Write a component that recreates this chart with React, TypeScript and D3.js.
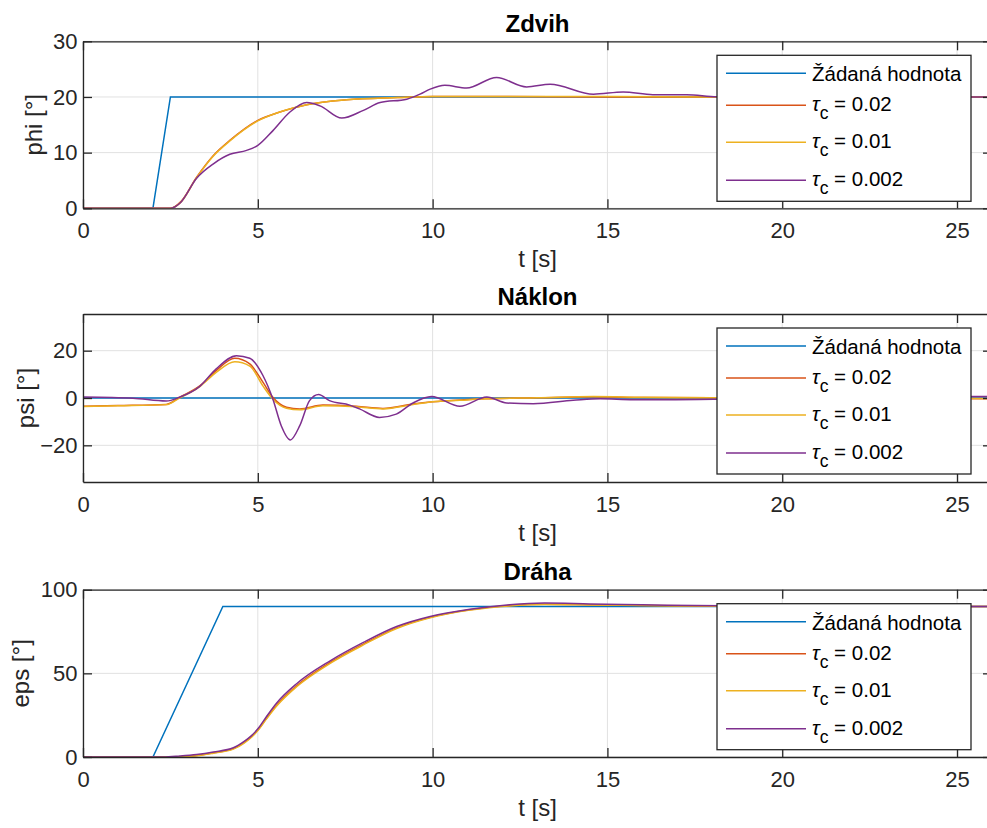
import React, { useEffect, useRef } from 'react';
import * as d3 from 'd3';

// legend + colours (MATLAB default order)
const legendNames = ['Žádaná hodnota', '0.02', '0.01', '0.002'];
const colors = ['#0072BD', '#D95319', '#EDB120', '#7E2F8E'];
const xTicks = [0, 5, 10, 15, 20, 25];
const titles = ['Zdvih', 'Náklon', 'Dráha'];
const yLabels = ['phi [°]', 'psi [°]', 'eps [°]'];
const yTicks = [[0, 10, 20, 30], [-20, 0, 20], [0, 50, 100]];
const yDomains = [[0, 30], [-35.5, 35.5], [0, 100]];

// Zdvih (phi)
const phiRefT = [0, 2, 2.5, 26];
const phiRef = [0, 0, 20, 20];
const phiT = [0, 2.5, 2.8, 3.25, 3.73, 4.2, 5.0, 5.63, 6.4, 7.54, 9.0, 10, 12, 15, 18, 22, 26];
const phi002 = [0, 0, 1.2, 5.6, 9.5, 12.2, 15.8, 17.3, 18.6, 19.5, 19.9, 20.1, 20.1, 20, 20, 20, 20];
const phi001 = [0, 0, 1.1, 5.5, 9.4, 12.1, 15.7, 17.3, 18.6, 19.5, 19.9, 20.1, 20.1, 20.1, 20, 20, 20];
const phi0002T = [0, 2.5, 2.77, 3.25, 3.73, 4.2, 4.68, 5.0, 5.44, 5.92, 6.4, 6.78, 7.4, 8.02, 8.5, 9.26, 9.64, 9.93, 10.35, 10.97, 11.83, 12.69, 13.36, 14.6, 15.45, 16.3, 17.27, 18.13, 20, 23, 26];
const phi0002 = [0, 0, 0.9, 5.4, 8.0, 9.7, 10.4, 11.3, 14, 17.3, 19.0, 18.4, 16.2, 17.6, 19.0, 19.6, 20.5, 21.4, 22.1, 21.6, 23.5, 21.8, 22.3, 20.5, 20.9, 20.4, 20.4, 20.05, 20, 20, 20];

// Náklon (psi)
const psiRefT = [0, 26];
const psiRef = [0, 0];
const psiT = [0, 1, 2.38, 2.76, 3.34, 3.81, 4.34, 4.77, 5.15, 5.43, 5.82, 6.2, 6.86, 7.82, 8.58, 9.44, 10, 10.78, 11.5, 13, 14.6, 16, 18, 21, 26];
const psi002 = [-3.5, -3.2, -2.7, 0.3, 5.1, 11.6, 16.8, 14.4, 6.6, 0.3, -3.9, -4.6, -3, -3.5, -4.4, -2.5, -1.6, -0.8, -0.3, 0.1, 0.5, 0.2, 0.1, 0, -0.3];
const psi001 = [-3.6, -3.3, -2.8, 0, 4.8, 10.8, 15.3, 13.5, 5.0, -0.5, -4.3, -5.0, -3.3, -3.7, -4.6, -2.8, -1.6, -1.0, -0.3, 0.1, 0.6, 0.3, 0.1, 0, -0.2];
const psi0002T = [0, 1.43, 2.38, 2.76, 3.34, 3.81, 4.39, 4.77, 5.15, 5.43, 5.67, 5.93, 6.2, 6.48, 6.74, 7.05, 7.63, 7.91, 8.48, 8.96, 9.44, 9.97, 10.78, 11.55, 12.12, 12.88, 14.02, 14.79, 15.74, 16.7, 18.1, 21, 26];
const psi0002 = [0.4, -0.1, -1.3, 0.3, 4.9, 12.3, 17.9, 16.8, 9.4, -0.4, -11.7, -17.7, -11.7, -1.1, 1.5, -1.1, -3, -4.6, -8.2, -6.8, -2.1, 0.6, -3.5, 0.4, -2.1, -2.4, -1.0, -0.3, -0.7, -0.7, -0.5, 0.5, 0.6];

// Dráha (eps)
const epsRefT = [0, 2, 4, 26];
const epsRef = [0, 0, 90, 90];
const epsT = [0, 2.3, 2.77, 3.25, 3.73, 4.3, 4.6, 4.82, 5.02, 5.25, 5.54, 6.11, 7.07, 8.02, 8.97, 9.93, 11.07, 12.2, 13.2, 14.5, 16, 17.5, 20, 23, 26];
const eps002 = [0, 0, 0.2, 0.9, 2.5, 5.0, 8.6, 12.2, 16.6, 23.2, 31, 42.5, 56.5, 67.5, 77.2, 83.5, 88, 90.5, 91.3, 91, 90.6, 90.3, 90, 90, 90];
const eps001 = [0, 0, 0.1, 0.7, 2.3, 4.7, 8.2, 11.8, 16.3, 22.8, 30.5, 42, 56, 67, 76.8, 83.2, 87.8, 90.3, 91.1, 90.9, 90.5, 90.2, 90, 90, 90];
const eps0002 = [0, 0, 0.6, 1.5, 3.0, 5.5, 9.2, 12.8, 17.3, 24.2, 32.3, 43.8, 57.5, 68.5, 78, 84, 88.3, 91, 92, 91.5, 91, 90.5, 90.2, 90, 90];

const series = [
    [[phiRefT, phiRef], [phiT, phi002], [phiT, phi001], [phi0002T, phi0002]],
    [[psiRefT, psiRef], [psiT, psi002], [psiT, psi001], [psi0002T, psi0002]],
    [[epsRefT, epsRef], [epsT, eps002], [epsT, eps001], [epsT, eps0002]],
];

const App = () => {
    const svgRef = useRef(null);

    useEffect(() => {
        const svg = d3.select(svgRef.current);
        svg.selectAll("*").remove();

        const width = 987;
        const height = 828;
        const left = 83;
        const right = 992;
        const boxes = [[41.3, 208.3], [314, 482], [589.7, 757]];
        const yLabelX = [42, 34, 29];
        const font = "Arial, 'Liberation Sans', Helvetica, sans-serif";
        const ink = '#262626';

        svg.attr("width", width).attr("height", height)
            .attr("viewBox", [0, 0, width, height])
            .style("position", "absolute").style("left", 0).style("top", 0)
            .style("background", "#fff");

        const x = d3.scaleLinear([0, 26], [left, right]);

        series.forEach((ser, i) => {
            const [top, bottom] = boxes[i];
            const y = d3.scaleLinear(yDomains[i], [bottom, top]);
            const g = svg.append("g");

            svg.append("clipPath").attr("id", "clip" + i)
                .append("rect")
                .attr("x", left).attr("y", top)
                .attr("width", right - left).attr("height", bottom - top);

            // grid
            g.append("g").selectAll("line").data(xTicks).join("line")
                .attr("x1", d => x(d)).attr("x2", d => x(d))
                .attr("y1", top).attr("y2", bottom)
                .attr("stroke", "#e1e1e1").attr("stroke-width", 1);
            g.append("g").selectAll("line").data(yTicks[i]).join("line")
                .attr("x1", left).attr("x2", right)
                .attr("y1", d => y(d)).attr("y2", d => y(d))
                .attr("stroke", "#e1e1e1").attr("stroke-width", 1);

            // data lines
            const lines = g.append("g").attr("clip-path", `url(#clip${i})`);
            ser.forEach(([ts, vs], k) => {
                const line = d3.line()
                    .x(d => x(d[0]))
                    .y(d => y(d[1]))
                    .curve(k === 0 ? d3.curveLinear : d3.curveMonotoneX);
                lines.append("path")
                    .attr("fill", "none")
                    .attr("stroke", colors[k])
                    .attr("stroke-width", 1.5)
                    .attr("d", line(d3.zip(ts, vs)));
            });

            // axes
            const styleAxis = (a) => {
                a.attr("font-family", font).attr("font-size", 22);
                a.select(".domain").attr("stroke", ink).attr("stroke-width", 1.3);
                a.selectAll(".tick line").attr("stroke", ink).attr("stroke-width", 1.3);
                a.selectAll(".tick text").attr("fill", ink);
            };
            svg.append("g").attr("transform", `translate(0,${bottom})`)
                .call(d3.axisBottom(x).tickValues(xTicks).tickSize(-9).tickSizeOuter(0).tickPadding(14.5))
                .call(styleAxis);
            svg.append("g").attr("transform", `translate(0,${top})`)
                .call(d3.axisTop(x).tickValues(xTicks).tickSize(-9).tickSizeOuter(0).tickFormat(() => ""))
                .call(styleAxis);
            svg.append("g").attr("transform", `translate(${left},0)`)
                .call(d3.axisLeft(y).tickValues(yTicks[i]).tickSize(-9).tickSizeOuter(0).tickPadding(5.5))
                .call(styleAxis);
            svg.append("g").attr("transform", `translate(${right},0)`)
                .call(d3.axisRight(y).tickValues(yTicks[i]).tickSize(-9).tickSizeOuter(0).tickFormat(() => ""))
                .call(styleAxis);

            // title & labels
            const cx = (left + right) / 2;
            svg.append("text")
                .attr("x", cx).attr("y", top - 9.5)
                .attr("text-anchor", "middle")
                .attr("font-family", font).attr("font-size", 24).attr("font-weight", "bold")
                .attr("fill", "#000")
                .text(titles[i]);
            svg.append("text")
                .attr("x", cx).attr("y", bottom + 59)
                .attr("text-anchor", "middle")
                .attr("font-family", font).attr("font-size", 24)
                .attr("fill", ink)
                .text("t [s]");
            svg.append("text")
                .attr("transform", `translate(${yLabelX[i]},${(top + bottom) / 2}) rotate(-90)`)
                .attr("text-anchor", "middle")
                .attr("font-family", font).attr("font-size", 24)
                .attr("fill", ink)
                .text(yLabels[i]);

            // legend
            const ly = top + 14;
            const leg = svg.append("g").attr("transform", `translate(717,${ly})`);
            leg.append("rect")
                .attr("width", 254).attr("height", 146)
                .attr("fill", "#fff").attr("stroke", ink).attr("stroke-width", 1.3);
            const rows = [18, 50, 87, 125];
            legendNames.forEach((name, k) => {
                leg.append("line")
                    .attr("x1", 9).attr("x2", 89)
                    .attr("y1", rows[k]).attr("y2", rows[k])
                    .attr("stroke", colors[k]).attr("stroke-width", 1.5);
                const t = leg.append("text")
                    .attr("x", 95)
                    .attr("font-family", font).attr("font-size", 20.5)
                    .attr("fill", "#000");
                if (k === 0) {
                    t.attr("y", rows[k] + 8).text(name);
                } else {
                    t.attr("y", rows[k] + 6);
                    t.append("tspan").attr("font-style", "italic").text("τ");
                    t.append("tspan").attr("dy", 8).attr("font-size", 17.5).text("c");
                    t.append("tspan").attr("dy", -8).text(" = " + name);
                }
            });
        });
    }, []);

    return <svg ref={svgRef} />;
};

export default App;
